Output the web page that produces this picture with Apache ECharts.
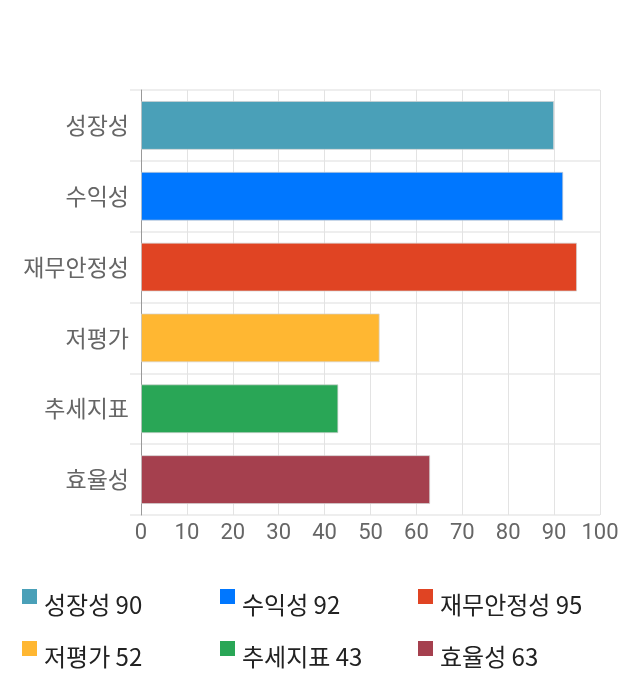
<!DOCTYPE html>
<html lang="ko">
<head>
    <meta charset="UTF-8">
    <title>지표</title>
    <script src="https://cdn.jsdelivr.net/npm/echarts@6/dist/echarts.min.js"></script>
    <style>
        html, body { margin: 0; padding: 0; background: #fff; }
        #chart { width: 640px; height: 700px; }
    </style>
</head>
<body>
    <div id="chart"></div>
    <script>
        // 데이터
        var categories = ['성장성', '수익성', '재무안정성', '저평가', '추세지표', '효율성'];
        var values = [90, 92, 95, 52, 43, 63];
        var colors = ['#4aa0b8', '#0077ff', '#e04423', '#ffb732', '#29a656', '#a5404e'];
        var xTicks = [0, 100, 10]; // min, max, interval

        var myChart = echarts.init(document.getElementById('chart'));
        var font = '"Noto Sans CJK KR", sans-serif';

        // 카테고리마다 하나의 시리즈 (범례용), stack 으로 가운데 정렬
        var series = [];
        var legends = [];
        var legendLeft = [22, 220, 418];
        var legendTop = [589, 641];
        for (var i = 0; i < categories.length; i++) {
            var d = [];
            for (var j = 0; j < categories.length; j++) {
                d.push(j === i ? values[i] : '-');
            }
            series.push({
                name: categories[i],
                type: 'bar',
                stack: 'all',
                barWidth: '69%',
                itemStyle: {
                    color: colors[i],
                    borderColor: 'rgba(210,210,210,0.7)',
                    borderWidth: 1
                },
                data: d
            });
            legends.push({
                left: legendLeft[i % 3],
                top: legendTop[Math.floor(i / 3)],
                itemWidth: 15,
                itemHeight: 15,
                icon: 'rect',
                selectedMode: false,
                padding: 0,
                data: [{ name: categories[i], itemStyle: { color: colors[i], borderWidth: 0 } }],
                formatter: function (name) {
                    return '{t|' + name + ' ' + values[categories.indexOf(name)] + '}';
                },
                textStyle: {
                    rich: {
                        t: {
                            fontFamily: font,
                            fontSize: 24,
                            color: '#222',
                            padding: [17, 0, 0, 2]
                        }
                    }
                }
            });
        }

        var option = {
            animation: false,
            legend: legends,
            grid: {
                left: 141,
                right: 40,
                top: 90,
                bottom: 185
            },
            xAxis: {
                type: 'value',
                min: xTicks[0],
                max: xTicks[1],
                interval: xTicks[2],
                axisLine: { show: false },
                axisTick: { show: false },
                axisLabel: {
                    color: '#666',
                    fontSize: 22,
                    fontFamily: 'Roboto, sans-serif',
                    margin: 7
                },
                splitLine: { lineStyle: { color: '#e3e3e3' } }
            },
            yAxis: {
                type: 'category',
                inverse: true,
                data: categories,
                axisLine: { show: true, lineStyle: { color: '#999' } },
                axisTick: { show: true, length: 11, lineStyle: { color: '#eeeeee', width: 2 } },
                axisLabel: {
                    color: '#666',
                    fontSize: 23,
                    fontFamily: font,
                    margin: 12
                },
                splitLine: { show: true, lineStyle: { color: '#eeeeee', width: 2 } }
            },
            series: series
        };
        myChart.setOption(option);
    </script>
</body>
</html>
